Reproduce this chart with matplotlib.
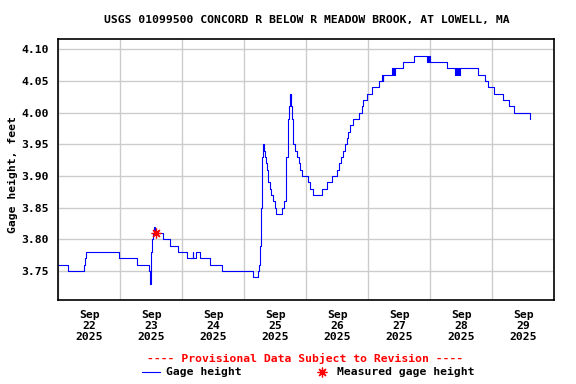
import matplotlib
matplotlib.use('Agg')
import matplotlib.pyplot as plt
import matplotlib.dates as mdates
from matplotlib.lines import Line2D
import pandas as pd

# gage height readings: hours since 2025-09-22 00:00, feet
hours = [0, 3.75, 10, 10.5, 10.75, 23.5, 30.5, 35.25, 35.5, 36, 36.25, 36.75,
         37, 37.25, 40.5, 43.25, 46.25, 50, 52, 52.25, 53.25, 54.75, 58.75,
         63.25, 75.5, 77.25, 77.75, 78.25, 78.5, 78.75, 79, 79.25, 79.75, 80,
         80.5, 80.75, 81, 81.25, 82, 82.5, 83.25, 83.75, 84.25, 86.75, 87.5,
         88, 88.25, 88.75, 89.25, 89.5, 89.75, 90, 90.25, 90.5, 90.75, 91,
         91.5, 92.25, 93.25, 93.75, 94.25, 96.5, 97.5, 98.5, 102, 104, 106,
         107.75, 108.75, 109.5, 110.25, 111, 111.75, 112.25, 113, 114.25,
         116.5, 117.5, 118, 119.5, 121.5, 124, 125.25, 125.5, 125.75, 129.25,
         129.5, 129.75, 130, 130.25, 133.25, 137.5, 142.75, 143, 143.25, 143.5,
         143.75, 150.5, 153.5, 154, 154.25, 154.75, 155, 155.5, 162.5, 165,
         166.5, 168.5, 172, 174.5, 176.5, 182.5]
gage = [3.76, 3.75, 3.76, 3.77, 3.78, 3.77, 3.76, 3.75, 3.73, 3.78, 3.80, 3.81,
        3.82, 3.81, 3.80, 3.79, 3.78, 3.77, 3.78, 3.77, 3.78, 3.77, 3.76,
        3.75, 3.74, 3.75, 3.76, 3.79, 3.85, 3.90, 3.93, 3.95, 3.94, 3.93,
        3.92, 3.91, 3.90, 3.89, 3.88, 3.87, 3.86, 3.85, 3.84, 3.85, 3.86,
        3.89, 3.93, 3.99, 4.01, 4.03, 4.02, 4.03, 4.01, 3.99, 3.97, 3.95,
        3.94, 3.93, 3.92, 3.91, 3.90, 3.89, 3.88, 3.87, 3.88, 3.89, 3.90,
        3.91, 3.92, 3.93, 3.94, 3.95, 3.96, 3.97, 3.98, 3.99,
        4.00, 4.01, 4.02, 4.03, 4.04, 4.05, 4.06, 4.05, 4.06, 4.07,
        4.06, 4.07, 4.06, 4.07, 4.08, 4.09, 4.08, 4.09, 4.08, 4.09,
        4.08, 4.07, 4.06, 4.07, 4.06, 4.07, 4.06, 4.07, 4.06, 4.05,
        4.04, 4.03, 4.02, 4.01, 4.00, 3.99]

meas_hours = [37.75]
meas_gage = [3.81]

yticks = [3.75, 3.80, 3.85, 3.90, 3.95, 4.00, 4.05, 4.10]
day_labels = ['Sep\n22\n2025', 'Sep\n23\n2025', 'Sep\n24\n2025', 'Sep\n25\n2025',
              'Sep\n26\n2025', 'Sep\n27\n2025', 'Sep\n28\n2025', 'Sep\n29\n2025']

start = pd.Timestamp('2025-09-22')
t = start + pd.to_timedelta(hours, unit='h')
tm = start + pd.to_timedelta(meas_hours, unit='h')

plt.rcParams['font.family'] = 'DejaVu Sans Mono'
plt.rcParams['font.weight'] = 'bold'
fs = 8.2

fig = plt.figure(figsize=(5.76, 3.84), dpi=100)
ax = fig.add_axes([58.3 / 576, 1 - 300 / 384, 496 / 576, 260.7 / 384])

ax.plot(t, gage, color='#0000ff', lw=0.8, drawstyle='steps-post')
ax.plot(tm, meas_gage, ls='none', marker=(8, 2, 0), ms=7, mew=0.9, color='#ff0000')

ax.set_xlim(start, start + pd.Timedelta(days=8))
ax.set_ylim(3.704, 4.1158)

ax.xaxis.set_major_locator(mdates.DayLocator())
ax.xaxis.set_major_formatter(plt.NullFormatter())
noon = [start + pd.Timedelta(hours=12 + 24 * i) for i in range(len(day_labels))]
ax.set_xticks(noon, minor=True)
ax.set_xticklabels(day_labels, minor=True, fontsize=fs, fontweight='bold',
                   linespacing=1.15)
ax.set_yticks(yticks)
ax.set_yticklabels([f'{v:.2f}' for v in yticks], fontsize=fs, fontweight='bold')
ax.tick_params(axis='both', which='both', length=0)
ax.tick_params(axis='x', which='minor', pad=7)
ax.tick_params(axis='y', pad=7)

ax.grid(True, which='major', color='#cccccc', lw=1)
ax.set_axisbelow(True)
for s in ax.spines.values():
    s.set_linewidth(1.2)

ax.set_ylabel('Gage height, feet', fontsize=fs, fontweight='bold')
ax.yaxis.set_label_coords(-40 / 496, 0.48)

fig.text(307 / 576, 1 - 20 / 384, 'USGS 01099500 CONCORD R BELOW R MEADOW BROOK, AT LOWELL, MA',
         ha='center', va='center', fontsize=fs, fontweight='bold')
fig.text(305 / 576, 1 - 358 / 384, '---- Provisional Data Subject to Revision ----',
         ha='center', va='center', fontsize=fs, fontweight='bold', color='#ff0000')

# legend row
fig.add_artist(Line2D([142 / 576, 160 / 576], [1 - 372 / 384] * 2, color='#0000ff', lw=0.8))
fig.text(166 / 576, 1 - 372 / 384, 'Gage height', ha='left', va='center',
         fontsize=fs, fontweight='bold')
fig.add_artist(Line2D([322 / 576], [1 - 372 / 384], ls='none', marker=(8, 2, 0), ms=7,
                      mew=0.9, color='#ff0000'))
fig.text(337 / 576, 1 - 372 / 384, 'Measured gage height', ha='left', va='center',
         fontsize=fs, fontweight='bold')

fig.savefig('out.png', dpi=100)
